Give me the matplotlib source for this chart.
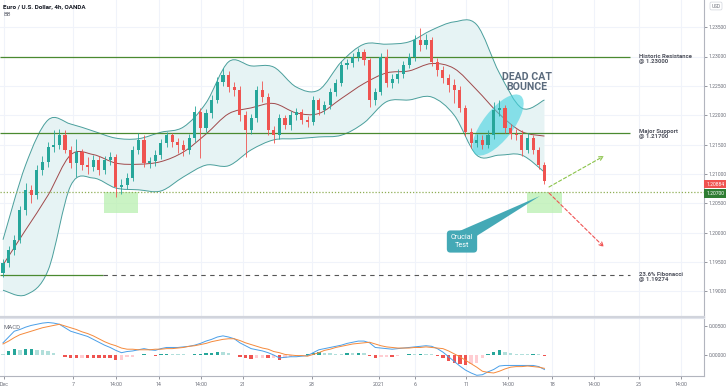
import numpy as np
import matplotlib
matplotlib.use('Agg')
import matplotlib.pyplot as plt
from matplotlib.patches import Rectangle, Ellipse, Polygon, PathPatch
from matplotlib.path import Path
from matplotlib.transforms import Affine2D, ScaledTranslation

plt.rcParams['font.family'] = ['Roboto', 'DejaVu Sans']

# ---------------- data (8h candles, EUR/USD) ----------------
first_open = 1.1932
close = [1.1948, 1.1971, 1.1988, 1.2039, 1.2073, 1.2064, 1.2107, 1.2120, 1.2146, 1.2149,
         1.2166, 1.2141, 1.2119, 1.2137, 1.2115, 1.2112, 1.2124, 1.2107, 1.2124, 1.2129,
         1.2078, 1.2081, 1.2093, 1.2141, 1.2158, 1.2119, 1.2122, 1.2132, 1.2153, 1.2166,
         1.2154, 1.2149, 1.2141, 1.2161, 1.2206, 1.2178, 1.2204, 1.2226, 1.2257, 1.2269,
         1.2248, 1.2243, 1.2200, 1.2175, 1.2195, 1.2243, 1.2231, 1.2175, 1.2166, 1.2195,
         1.2183, 1.2200, 1.2205, 1.2192, 1.2189, 1.2226, 1.2209, 1.2217, 1.2240, 1.2255,
         1.2286, 1.2289, 1.2299, 1.2308, 1.2294, 1.2226, 1.2240, 1.2300, 1.2255, 1.2262,
         1.2270, 1.2285, 1.2299, 1.2328, 1.2320, 1.2328, 1.2291, 1.2277, 1.2263, 1.2252,
         1.2243, 1.2212, 1.2171, 1.2153, 1.2158, 1.2150, 1.2166, 1.2209, 1.2212, 1.2178,
         1.2168, 1.2166, 1.2141, 1.2161, 1.2141, 1.2115, 1.2088]
high = [1.1955, 1.1978, 1.1996, 1.2046, 1.2085, 1.2082, 1.2115, 1.2130, 1.2155, 1.2175,
        1.2176, 1.2175, 1.2148, 1.2160, 1.2142, 1.2128, 1.2132, 1.2130, 1.2131, 1.2138,
        1.2134, 1.2092, 1.2102, 1.2148, 1.2170, 1.2166, 1.2128, 1.2140, 1.2160, 1.2172,
        1.2170, 1.2162, 1.2158, 1.2168, 1.2215, 1.2212, 1.2210, 1.2235, 1.2265, 1.2280,
        1.2275, 1.2256, 1.2250, 1.2208, 1.2202, 1.2250, 1.2258, 1.2238, 1.2182, 1.2202,
        1.2200, 1.2207, 1.2213, 1.2210, 1.2198, 1.2232, 1.2230, 1.2224, 1.2246, 1.2262,
        1.2292, 1.2296, 1.2306, 1.2314, 1.2312, 1.2298, 1.2246, 1.2306, 1.2312, 1.2270,
        1.2278, 1.2292, 1.2306, 1.2336, 1.2348, 1.2338, 1.2334, 1.2298, 1.2284, 1.2270,
        1.2262, 1.2250, 1.2218, 1.2178, 1.2168, 1.2166, 1.2175, 1.2222, 1.2226, 1.2218,
        1.2185, 1.2176, 1.2174, 1.2170, 1.2166, 1.2146, 1.2120]
low = [1.1925, 1.1942, 1.1962, 1.1982, 1.2030, 1.2050, 1.2058, 1.2098, 1.2112, 1.2138,
       1.2142, 1.2135, 1.2110, 1.2094, 1.2106, 1.2100, 1.2105, 1.2098, 1.2100, 1.2115,
       1.2060, 1.2066, 1.2074, 1.2088, 1.2134, 1.2112, 1.2110, 1.2114, 1.2126, 1.2146,
       1.2146, 1.2136, 1.2130, 1.2134, 1.2155, 1.2127, 1.2172, 1.2196, 1.2220, 1.2250,
       1.2240, 1.2232, 1.2190, 1.2129, 1.2168, 1.2188, 1.2222, 1.2166, 1.2152, 1.2160,
       1.2176, 1.2175, 1.2192, 1.2185, 1.2180, 1.2184, 1.2200, 1.2202, 1.2210, 1.2232,
       1.2250, 1.2278, 1.2282, 1.2292, 1.2286, 1.2214, 1.2218, 1.2235, 1.2248, 1.2246,
       1.2255, 1.2264, 1.2280, 1.2292, 1.2310, 1.2312, 1.2284, 1.2266, 1.2255, 1.2240,
       1.2220, 1.2205, 1.2164, 1.2145, 1.2146, 1.2142, 1.2144, 1.2160, 1.2198, 1.2170,
       1.2160, 1.2158, 1.2131, 1.2136, 1.2134, 1.2108, 1.2083]

bb_idx = list(range(0, 97, 4))
bb_upper = [1.1988, 1.2115, 1.2192, 1.2185, 1.2173, 1.2161, 1.2160, 1.2171, 1.2180, 1.2221,
            1.2291, 1.2284, 1.2282, 1.2248, 1.2243, 1.2291, 1.2321, 1.2321, 1.2325, 1.2345,
            1.2359, 1.2354, 1.2272, 1.2212, 1.2226]
bb_lower = [1.1902, 1.1894, 1.1936, 1.2080, 1.2093, 1.2076, 1.2073, 1.2071, 1.2095, 1.2115,
            1.2114, 1.2141, 1.2158, 1.2160, 1.2163, 1.2166, 1.2187, 1.2223, 1.2226, 1.2231,
            1.2200, 1.2132, 1.2132, 1.2132, 1.2103]

macd = [.0021, .0031, .0041, .0044, .0048, .0051, .0053, .0055, .0056, .0055,
        .0053, .0047, .0041, .0038, .0035, .0032, .0027, .0022, .0017, .0013,
        .0008, .0004, .0006, .0007, .0009, .0011, .0009, .0008, .0011, .0013,
        .0013, .0013, .0014, .0015, .0017, .0020, .0024, .0027, .0031, .0033,
        .0031, .0028, .0021, .0016, .0011, .0009, .0007, .0004, .0000, -.0005,
        -.0004, -.0003, -.0003, -.0002, -.0001, .0004, .0009, .0011, .0013, .0015,
        .0017, .0020, .0022, .0024, .0024, .0021, .0013, .0012, .0011, .0010,
        .0011, .0012, .0013, .0014, .0015, .0016, .0015, .0011, .0005, -.0003,
        -.0011, -.0019, -.0026, -.0031, -.0035, -.0034, -.0029, -.0025, -.0019, -.0018,
        -.0018, -.0018, -.0018, -.0018, -.0018, -.0020, -.0025]
signal = [.0019, .0024, .0030, .0035, .0038, .0041, .0044, .0047, .0049, .0051,
          .0053, .0050, .0047, .0044, .0040, .0037, .0033, .0028, .0023, .0019,
          .0016, .0012, .0010, .0010, .0009, .0009, .0009, .0010, .0010, .0011,
          .0011, .0012, .0013, .0015, .0016, .0018, .0020, .0023, .0025, .0027,
          .0028, .0028, .0025, .0021, .0018, .0015, .0012, .0010, .0006, .0004,
          .0001, .0000, -.0001, -.0001, -.0002, .0001, .0004, .0008, .0010, .0013,
          .0015, .0017, .0019, .0020, .0021, .0022, .0019, .0016, .0014, .0013,
          .0012, .0012, .0012, .0013, .0013, .0014, .0013, .0012, .0011, .0007,
          .0002, -.0003, -.0009, -.0015, -.0021, -.0028, -.0030, -.0031, -.0028, -.0024,
          -.0021, -.0020, -.0020, -.0019, -.0020, -.0021, -.0023]

xtick_pos = [0.12, 12.41, 20.04, 27.66, 35.11, 42.55, 54.79, 66.6, 73.05, 82.09,
             89.54, 97.34, 104.79, 112.77, 120.21]
xtick_labels = ['Dec', '7', '14:00', '14', '14:00', '21', '28', '2021', '6', '11',
                '14:00', '18', '14:00', '25', '14:00']
price_ticks = [1.190, 1.195, 1.200, 1.205, 1.210, 1.215, 1.220, 1.225, 1.230, 1.235]
macd_ticks = [0.0, 0.005]

resistance = 1.23000
support = 1.21700
fib = 1.19274
test_level = 1.20700
last_price = 1.20884

# ---------------- layout helpers (pixel -> data for annotations) ----------------
W, H = 728, 391
def X(px):
    return (px - 3) / 5.64
def Y(py):
    return 1.23 - (py - 56.5) * 0.0001703


def smooth_verts(xs, ys):
    """Catmull-Rom through the given points, expressed as cubic Bezier path vertices."""
    pts = np.column_stack([xs, ys]).astype(float)
    n = len(pts)
    verts = [tuple(pts[0])]
    codes = [Path.MOVETO]
    for i in range(n - 1):
        p0 = pts[max(i - 1, 0)]
        p1 = pts[i]
        p2 = pts[i + 1]
        p3 = pts[min(i + 2, n - 1)]
        c1 = p1 + (p2 - p0) / 6.0
        c2 = p2 - (p3 - p1) / 6.0
        verts += [tuple(c1), tuple(c2), tuple(p2)]
        codes += [Path.CURVE4] * 3
    return verts, codes


UP, DOWN = '#26a69a', '#ef5350'
TXT = '#50535e'
LEVEL = '#4a8a30'

fig = plt.figure(figsize=(W / 100, H / 100), dpi=100)
ax = fig.add_axes([0, 74 / H, 704 / W, 317 / H])
axm = fig.add_axes([0, 15 / H, 704 / W, 58 / H])

xmin, xmax = X(0), X(704)

# grid
for a in (ax, axm):
    for xp in xtick_pos:
        a.axvline(xp, color='#f0f3fa', lw=0.8, zorder=0)
for p in price_ticks:
    ax.axhline(p, color='#f0f3fa', lw=0.8, zorder=0)

# Bollinger bands (smooth curves through the sampled values)
bb_upper_a = np.array(bb_upper)
bb_lower_a = np.array(bb_lower)
bb_basis = (bb_upper_a + bb_lower_a) / 2
uv, uc = smooth_verts(bb_idx, bb_upper_a)
lv, lc = smooth_verts(bb_idx[::-1], bb_lower_a[::-1])
fill_verts = uv + [lv[0]] + lv[1:] + [uv[0]]
fill_codes = uc + [Path.LINETO] + lc[1:] + [Path.CLOSEPOLY]
ax.add_patch(PathPatch(Path(fill_verts, fill_codes), facecolor='#e6f3f4', edgecolor='none', zorder=1))
for vals, col in ((bb_upper_a, '#4a9f9c'), (bb_lower_a, '#4a9f9c'), (bb_basis, '#a0494b')):
    v, c = smooth_verts(bb_idx, vals)
    ax.add_patch(PathPatch(Path(v, c), facecolor='none', edgecolor=col, lw=0.7, zorder=2))

# level lines
ax.hlines(resistance, xmin, X(630), color=LEVEL, lw=0.9, zorder=3)
ax.hlines(support, xmin, X(630), color=LEVEL, lw=0.9, zorder=3)
ax.hlines(fib, xmin, X(103), color=LEVEL, lw=0.9, zorder=3)
ax.hlines(fib, X(103), X(630), color='#555555', lw=0.8, linestyles=(0, (4, 4)), zorder=3)
ax.hlines(test_level, xmin, xmax, color='#8fae55', lw=0.9, linestyles=(0, (1, 1.5)), zorder=3)

# green zones
for x0, x1 in ((104, 138), (527, 562)):
    ax.add_patch(Rectangle((X(x0), Y(213)), X(x1) - X(x0), test_level - Y(213),
                           facecolor='#b9f0b0', alpha=0.75, edgecolor='none', zorder=2))

# ellipse (dead cat bounce)
cx, cy = X(498), Y(125)
ell = Ellipse((0, 0), 1, 1, facecolor='#45d3e0', alpha=0.6, edgecolor='none', zorder=2.5)
ell.set_transform(Affine2D().scale(74, 30).rotate_deg(52) + ScaledTranslation(cx, cy, ax.transData))
ax.add_patch(ell)

# candles
idx = np.arange(len(close))
opens = [first_open] + close[:-1]
for i in idx:
    o, c = opens[i], close[i]
    col = UP if c >= o else DOWN
    ax.vlines(i, min(low[i], o, c), max(high[i], o, c), color=col, lw=0.6, zorder=4)
    h = abs(c - o)
    if h < 0.00005:
        h = 0.00005
    ax.bar(i, h, bottom=min(o, c), width=0.56, color=col, lw=0, zorder=5)

# annotations
ax.text(X(527), Y(82), 'DEAD CAT\nBOUNCE', ha='center', va='center', fontsize=7.6,
        color='#5b6b7d', linespacing=1.0, zorder=6, fontweight='bold')
ax.text(X(639), Y(59), 'Historic Resistance\n@ 1.23000', ha='left', va='center', fontsize=4.3,
        color=TXT, linespacing=1.0, fontweight='bold')
ax.text(X(639), Y(134), 'Major Support\n@ 1.21700', ha='left', va='center', fontsize=4.3,
        color=TXT, linespacing=1.0, fontweight='bold')
ax.text(X(639), Y(277.5), '23.6% Fibonacci\n@ 1.19274', ha='left', va='center', fontsize=4.3,
        color=TXT, linespacing=1.0, fontweight='bold')

ax.add_patch(Polygon([(X(455), Y(233)), (X(475), Y(237)), (X(540), Y(196))],
                     closed=True, facecolor='#44a9b6', edgecolor='none', zorder=6))
ax.text(X(462), Y(241.5), 'Crucial\nTest', ha='center', va='center', fontsize=5.2, color='white',
        linespacing=1.05, zorder=7,
        bbox=dict(boxstyle='round,pad=0.55,rounding_size=0.5', fc='#44a9b6', ec='none'))

ax.annotate('', xy=(X(604), Y(156)), xytext=(X(549), Y(187)),
            arrowprops=dict(arrowstyle='->', linestyle=(0, (3, 2)), color='#8bc34a', lw=0.8,
                            shrinkA=0, shrinkB=0, mutation_scale=7), zorder=6)
ax.annotate('', xy=(X(604), Y(247)), xytext=(X(549), Y(193)),
            arrowprops=dict(arrowstyle='->', linestyle=(0, (3, 2)), color='#f05252', lw=0.8,
                            shrinkA=0, shrinkB=0, mutation_scale=7), zorder=6)

# axes styling main
ax.set_xlim(xmin, xmax)
ax.set_ylim(Y(317), Y(0))
ax.set_xticks(xtick_pos)
ax.tick_params(axis='x', length=0, labelbottom=False)
ax.yaxis.tick_right()
ax.set_yticks(price_ticks)
ax.set_yticklabels([f'{p:.5f}' for p in price_ticks])
ax.tick_params(axis='y', labelsize=3.6, colors='#6a6d78', length=2, width=0.5, pad=1.5)
for s in ('top', 'left'):
    ax.spines[s].set_visible(False)
ax.spines['right'].set_color('#b2b5be')
ax.spines['right'].set_linewidth(0.8)
ax.spines['bottom'].set_color('#d1d4dc')
ax.spines['bottom'].set_linewidth(1.6)

# price labels on axis
ytr = ax.get_yaxis_transform()
ax.text(1.003, Y(184), f'{last_price:.5f}', transform=ytr, ha='left', va='center', fontsize=3.6,
        color='white', bbox=dict(boxstyle='square,pad=0.35', fc='#ef5350', ec='none'), zorder=10)
ax.text(1.003, Y(193.5), f'{test_level:.5f}', transform=ytr, ha='left', va='center', fontsize=3.6,
        color='white', bbox=dict(boxstyle='square,pad=0.35', fc='#2e7d32', ec='none'), zorder=10)

fig.text(3 / W, 1 - 7 / H, 'Euro / U.S. Dollar, 4h, OANDA', fontsize=4.5, color='#131722',
         va='center', ha='left', fontweight='bold')
fig.text(3 / W, 1 - 15 / H, 'BB', fontsize=4.3, color='#6a6d78', va='center', ha='left')
fig.text(716 / W, 1 - 6 / H, 'USD', fontsize=3.4, color='#6a6d78', va='center', ha='center',
         bbox=dict(boxstyle='round,pad=0.3', fc='white', ec='#d1d4dc', lw=0.5))

# MACD panel
macd_a = np.array(macd)
signal_a = np.array(signal)
hist = macd_a - signal_a
hcols = []
for i, h in enumerate(hist):
    prev = hist[i - 1] if i > 0 else h
    if h >= 0:
        hcols.append('#26a69a' if h > prev else '#b2dfdb')
    else:
        hcols.append('#ffcdd2' if h > prev else '#ef5350')
axm.bar(idx, hist, width=0.6, color=hcols, lw=0, zorder=2)
axm.plot(idx, macd_a, color='#4a9fe8', lw=0.7, zorder=3)
axm.plot(idx, signal_a, color='#f58a3c', lw=0.7, zorder=3)
axm.set_xlim(xmin, xmax)
axm.set_ylim(-0.00362, 0.00638)
axm.yaxis.tick_right()
axm.set_yticks(macd_ticks)
axm.set_yticklabels([f'{v:.5f}' for v in macd_ticks])
axm.tick_params(axis='y', labelsize=3.6, colors='#6a6d78', length=2, width=0.5, pad=1.5)
axm.set_xticks(xtick_pos)
axm.set_xticklabels(xtick_labels)
axm.tick_params(axis='x', labelsize=3.8, colors='#6a6d78', length=2, width=0.5, pad=2)
axm.spines['top'].set_color('#e0e3eb')
axm.spines['left'].set_visible(False)
axm.spines['right'].set_color('#b2b5be')
axm.spines['right'].set_linewidth(0.8)
axm.spines['bottom'].set_color('#b2b5be')
axm.spines['bottom'].set_linewidth(0.8)
axm.text(4 / 704, 0.84, 'MACD', transform=axm.transAxes, fontsize=4.3, color='#6a6d78',
         va='center', ha='left')

fig.savefig('out.png', dpi=100, facecolor='white')
